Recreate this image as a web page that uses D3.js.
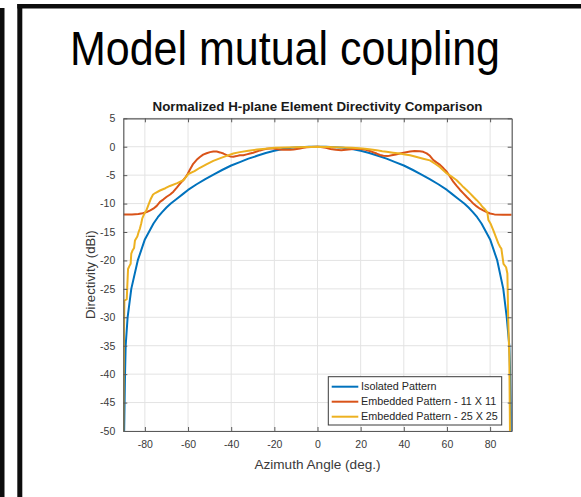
<!DOCTYPE html>
<html><head><meta charset="utf-8">
<script src="https://cdn.jsdelivr.net/npm/d3@7"></script>
<style>body{margin:0;background:#fff;} svg{display:block;font-family:Arial,"Liberation Sans",sans-serif;}</style>
</head><body><svg id="c" width="581" height="497"></svg>
<script>
const pageTitle = "Model mutual coupling";
const chartTitle = "Normalized H-plane Element Directivity Comparison";
const xLabel = "Azimuth Angle (deg.)";
const yLabel = "Directivity (dBi)";
const xTicks = [-80,-60,-40,-20,0,20,40,60,80];
const yTicks = [5,0,-5,-10,-15,-20,-25,-30,-35,-40,-45,-50];
const seriesNames = ["Isolated Pattern","Embedded Pattern - 11 X 11","Embedded Pattern - 25 X 25"];
const seriesColors = ["#0072BD","#D95319","#EDB120"];

const isoAngle = [-89.6,-89.4,-89.2,-88.9,-88,-86.3,-83.3,-80,-78,-76,-74,-72,-70,-68,-65,-62,-60,-56,-52,-48,-44,-40,-36,-32,-28,-24,-20,-16,-12,-8,-4,0,
  4,8,12,16,20,24,28,32,36,40,44,48,52,56,60,62,65,68,70,72,74,76,78,80,83.3,86.1,87.7,88.9,89.3,89.6,89.8];
const isoDb = [-50,-45,-40,-35,-30,-25,-20,-16.3,-14.9,-13.5,-12.4,-11.5,-10.7,-10.0,-9.1,-8.2,-7.6,-6.6,-5.7,-4.85,-4.05,-3.3,-2.7,-2.1,-1.6,-1.1,-0.7,-0.4,-0.2,-0.08,-0.02,0,
  -0.02,-0.08,-0.2,-0.4,-0.7,-1.1,-1.6,-2.1,-2.7,-3.3,-4.05,-4.85,-5.7,-6.6,-7.6,-8.2,-9.1,-10.0,-10.7,-11.5,-12.4,-13.5,-14.9,-16.3,-20,-25,-30,-35,-40,-45,-50];

const emb11Angle = [-90,-86,-83,-81,-79.2,-77.5,-76.1,-74.5,-73,-71.5,-69.9,-68.3,-66.8,-65.2,-63.7,-62.5,-61.4,-60.2,-59.1,-57.6,-56,-54.5,-53,-51.4,-49.8,-48.3,-46.7,-45.2,-43.6,-42.1,-40.5,-39,-37.5,-36,-34.4,-32.8,-31.3,-29.8,-28.2,-26.6,-25.1,-23.5,-22,-20.5,-19,-17.4,-15.9,-14.3,-12.7,-11.1,-9.6,-8.1,-6.6,-5,-3,0,
  1.5,3.9,6,8.5,11,13.2,15.5,17.8,20,22.4,25,27.4,29,30.5,32.5,34.4,36.3,38.2,40.5,42.9,45,47.4,49,50.6,52.1,53.7,55.3,56.8,58.4,59.9,61.5,63,64.5,66.1,67.6,69.1,70.7,72.2,73.8,75.3,76.8,78.4,80,82,86,90];
const emb11Db = [-11.9,-11.9,-11.85,-11.7,-11.5,-11.2,-10.9,-10.4,-9.7,-9.3,-8.8,-8.4,-7.9,-7.2,-6.5,-6.0,-5.5,-4.8,-4.0,-3.0,-2.3,-1.8,-1.4,-1.15,-0.95,-0.85,-0.85,-1.0,-1.2,-1.47,-1.7,-1.75,-1.65,-1.5,-1.5,-1.35,-1.2,-1.06,-0.85,-0.65,-0.5,-0.35,-0.3,-0.3,-0.4,-0.5,-0.55,-0.55,-0.55,-0.5,-0.4,-0.3,-0.2,-0.1,-0.03,0,
  -0.05,-0.2,-0.4,-0.55,-0.6,-0.55,-0.45,-0.35,-0.4,-0.55,-0.85,-1.2,-1.45,-1.6,-1.65,-1.5,-1.35,-1.2,-1.0,-0.85,-0.75,-0.8,-0.9,-1.17,-1.6,-2.35,-2.8,-3.2,-3.8,-4.4,-5.3,-6.2,-6.9,-7.6,-8.2,-8.8,-9.4,-10,-10.5,-10.9,-11.2,-11.5,-11.75,-11.9,-11.95,-11.95];

const emb25Angle = [-90,-89.8,-89.6,-89.5,-88.4,-88.2,-87.8,-87.2,-86.6,-86.3,-85.8,-85,-84.6,-83.5,-82.9,-82.3,-81.7,-81.2,-80.5,-80,-79.3,-78.3,-77.3,-76.2,-75,-73,-70.5,-68.4,-65,-62.2,-59.9,-57,-54.5,-51.5,-48.3,-45,-42.1,-39,-36,-32,-28,-24,-20,-15,-10,-5,0,
  5,11.6,16,20.9,24,27.4,30,32,35,38.2,40.5,42.9,46,49,52.1,54.5,56.8,58.4,59.9,62,64.5,66.1,67.6,69.1,70.7,72.2,73.8,75.3,76.5,77.6,78.7,79.2,80.3,81.5,82.6,83.8,84.6,85.2,86.2,87.4,88,88.4,88.9,89.2,89.4];
const emb25Db = [-50,-40,-30,-27.1,-26.8,-25,-21.5,-21,-20.6,-18.8,-18.3,-17.8,-16.5,-15.8,-15.0,-14.4,-13.5,-12.6,-12.0,-11.6,-11.2,-10.2,-9.2,-8.4,-8.1,-7.7,-7.3,-6.9,-6.4,-5.9,-4.8,-4.3,-3.7,-3.1,-2.5,-2.0,-1.6,-1.2,-0.95,-0.7,-0.5,-0.35,-0.2,-0.12,-0.08,-0.03,0,
  -0.03,-0.15,-0.2,-0.3,-0.45,-0.6,-0.8,-0.9,-1.05,-1.2,-1.35,-1.5,-1.8,-2.1,-2.4,-3.0,-3.6,-4.2,-4.7,-5.2,-5.9,-6.5,-7.1,-7.6,-8.2,-8.8,-9.4,-10,-10.6,-11.0,-11.5,-12.9,-13.6,-14.7,-15.8,-17,-17.6,-17.9,-20.6,-21.2,-22.3,-30.5,-37,-50,-55];

const svg = d3.select("#c");
// frame decorations
svg.append("rect").attr("x",0).attr("y",8).attr("width",4.5).attr("height",489).attr("fill","#0d0d0d");
svg.append("rect").attr("x",17.3).attr("y",4).attr("width",5).attr("height",493).attr("fill","#0d0d0d");
svg.append("rect").attr("x",17.3).attr("y",4).attr("width",564).attr("height",4.5).attr("fill","#0d0d0d");

svg.append("text").attr("x",70).attr("y",65).attr("font-size",48).attr("fill","#000")
  .attr("textLength",430).attr("lengthAdjust","spacingAndGlyphs").text(pageTitle);

const L=123.3, R=511.7, T=118.3, B=431;
const x = d3.scaleLinear().domain([-90,90]).range([L,R]);
const y = d3.scaleLinear().domain([-50,5]).range([B,T]);
const fmt = d => String(d);

const g = svg.append("g");
g.selectAll(".gx").data(xTicks).enter().append("line")
  .attr("x1",d=>x(d)).attr("x2",d=>x(d)).attr("y1",T).attr("y2",B).attr("stroke","#e3e3e3").attr("stroke-width",1);
g.selectAll(".gy").data(yTicks).enter().append("line")
  .attr("y1",d=>y(d)).attr("y2",d=>y(d)).attr("x1",L).attr("x2",R).attr("stroke","#e3e3e3").attr("stroke-width",1);

const tickCol = "#3a3a3a";
const axB = d3.axisBottom(x).tickValues(xTicks).tickSizeInner(-4).tickSizeOuter(0).tickPadding(10).tickFormat(fmt);
const axT = d3.axisTop(x).tickValues(xTicks).tickSizeInner(-4).tickSizeOuter(0).tickFormat("");
const axL = d3.axisLeft(y).tickValues(yTicks).tickSizeInner(-4).tickSizeOuter(0).tickPadding(8).tickFormat(fmt);
const axR = d3.axisRight(y).tickValues(yTicks).tickSizeInner(-4).tickSizeOuter(0).tickFormat("");
function style(sel){ sel.selectAll("path").attr("stroke","#5a5a5a").attr("stroke-width",1.2);
  sel.selectAll("line").attr("stroke","#5a5a5a");
  sel.selectAll("text").attr("fill",tickCol).attr("font-size",10.5);
  sel.attr("font-family",null); }

svg.append("defs").append("clipPath").attr("id","clip").append("rect").attr("x",L).attr("y",T).attr("width",R-L).attr("height",B-T);
const line = d3.line().x(d=>x(d[0])).y(d=>y(d[1]));
const sets = [[isoAngle,isoDb],[emb11Angle,emb11Db],[emb25Angle,emb25Db]];
const lg = svg.append("g").attr("clip-path","url(#clip)");
sets.forEach((s,i)=>{
  const pts = s[0].map((a,k)=>[a,s[1][k]]);
  lg.append("path").datum(pts).attr("d",line).attr("fill","none").attr("stroke",seriesColors[i]).attr("stroke-width",2).attr("stroke-linejoin","round");
});

style(svg.append("g").attr("transform",`translate(0,${B})`).call(axB));
style(svg.append("g").attr("transform",`translate(0,${T})`).call(axT));
style(svg.append("g").attr("transform",`translate(${L},0)`).call(axL));
style(svg.append("g").attr("transform",`translate(${R},0)`).call(axR));

svg.append("text").attr("x",(L+R)/2).attr("y",111).attr("text-anchor","middle").attr("font-weight","bold")
  .attr("font-size",12.6).attr("fill","#1a1a1a").attr("textLength",330).attr("lengthAdjust","spacingAndGlyphs").text(chartTitle);
svg.append("text").attr("x",(L+R)/2).attr("y",469).attr("text-anchor","middle").attr("font-size",13.6).attr("fill",tickCol).text(xLabel);
svg.append("text").attr("transform",`translate(95,${(T+B)/2}) rotate(-90)`).attr("text-anchor","middle").attr("font-size",13.2).attr("fill",tickCol).text(yLabel);

const lgx=328.3, lgy=376.7;
svg.append("rect").attr("x",lgx).attr("y",lgy).attr("width",173.4).attr("height",48.3).attr("fill","#fff").attr("stroke","#3a3a3a").attr("stroke-width",1);
seriesNames.forEach((n,i)=>{
  const yy = 386.7 + i*15;
  svg.append("line").attr("x1",331.7).attr("x2",358.3).attr("y1",yy).attr("y2",yy).attr("stroke",seriesColors[i]).attr("stroke-width",2);
  svg.append("text").attr("x",361).attr("y",yy).attr("dy","0.35em").attr("font-size",10.8).attr("fill","#262626").text(n);
});
</script></body></html>
